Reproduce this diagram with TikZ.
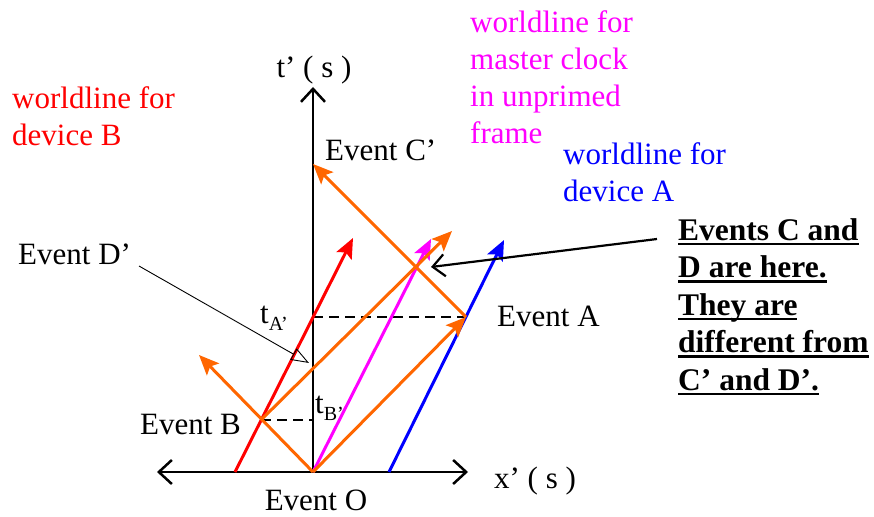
\documentclass[tikz,border=0pt]{standalone}
\usepackage{fontspec}
\setmainfont{Liberation Serif}
\usetikzlibrary{arrows.meta}
\definecolor{lightorange}{RGB}{255,102,0}
\definecolor{clockpink}{RGB}{255,0,255}
\definecolor{devred}{RGB}{255,0,0}
\definecolor{devblue}{RGB}{0,0,255}
\newcommand{\undl}[1]{\setbox0=\hbox{#1}\rlap{\copy0}\rule[-5pt]{\wd0}{2.5pt}}

\begin{document}
\begin{tikzpicture}[
    x=1pt, y=-1pt,
    every node/.style={font=\fontsize{31}{37}\selectfont, inner sep=0pt},
    axis/.style={line width=2.5pt, {Straight Barb[length=13pt,width=24pt]}-{Straight Barb[length=13pt,width=24pt]}},
    taxis/.style={line width=2.5pt, -{Straight Barb[length=13pt,width=24pt]}},
    wl/.style={line width=3pt, -{Stealth[length=20pt,width=17pt,inset=4pt]}},
    lightray/.style={wl, lightorange},
    meas/.style={line width=2.2pt, dash pattern=on 10pt off 6pt},
    ptr/.style={line width=2.2pt, -{Straight Barb[length=12pt,width=22pt]}},
    thinptr/.style={line width=0.9pt, -{Triangle[open,length=18pt,width=13pt]}},
    lbl/.style={align=left, anchor=west}
]
\useasboundingbox (0,0) rectangle (874,516);

\coordinate (O) at (313,472);
\coordinate (B) at (261,420);
\coordinate (A) at (466,317);
\coordinate (Cp) at (313,164);
\coordinate (Dp) at (313,368);
\coordinate (tA) at (313,317);
\coordinate (tB) at (313,420);
\coordinate (xl) at (157,472);
\coordinate (xr) at (468,472);
\coordinate (ttop) at (313,87);

\draw[axis] (xl) -- (xr);
\draw[taxis] (O) -- (ttop);
\node (tlabel) at (314,70) {t’ ( s )};
\node (xlabel) at (535,481) {x’ ( s )};

\coordinate (redbot) at (235,472);
\coordinate (redtop) at (353,238);
\coordinate (bluebot) at (389,472);
\coordinate (bluetop) at (504,240);
\coordinate (magtop) at (431,239);
\coordinate (raylft) at (199,355);
\coordinate (rayrgt) at (452,231);

\draw[meas] (B) -- (tB);
\draw[meas] (tA) -- (A);

\draw[wl, devred] (redbot) -- (redtop);
\draw[wl, devblue] (bluebot) -- (bluetop);
\draw[wl, clockpink] (O) -- (magtop);
\draw[lightray] (O) -- (A);
\draw[lightray] (O) -- (raylft);
\draw[lightray] (B) -- (rayrgt);
\draw[lightray] (A) -- (Cp);

\node (evO) at (316,500) {Event O};
\node[anchor=east] (evB) at (241,424) {Event B};
\node[anchor=west] (evA) at (497,316) {Event A};
\node[anchor=west] (evC) at (325,150) {Event C’};
\node[anchor=west] (evD) at (18,254) {Event D’};
\node[anchor=west] (tAlbl) at (260,318) {t\raisebox{-7pt}{\fontsize{20}{20}\selectfont A’}};
\node[anchor=west] (tBlbl) at (315,408) {t\raisebox{-7pt}{\fontsize{20}{20}\selectfont B’}};

\coordinate (dtail) at (139,266);
\coordinate (dtip) at (309,363);
\draw[thinptr] (dtail) -- (dtip);

\node[lbl, text=devred] (wlB) at (12,116) {worldline for\\device B};
\node[lbl, text=clockpink] (wlM) at (470,77) {worldline for\\master clock\\in unprimed\\frame};
\node[lbl, text=devblue] (wlA) at (563,172) {worldline for\\device A};
\node[lbl, font=\fontsize{31.5}{37.5}\selectfont\bfseries] (note) at (678,307) {%
    \undl{Events C and}\\
    \undl{D are here.}\\
    \undl{They are}\\
    \undl{different from}\\
    \undl{C’ and D’.}};

\coordinate (cdtail) at (657,239);
\coordinate (cdtip) at (431,267);
\draw[ptr] (cdtail) -- (cdtip);
\end{tikzpicture}
\end{document}
